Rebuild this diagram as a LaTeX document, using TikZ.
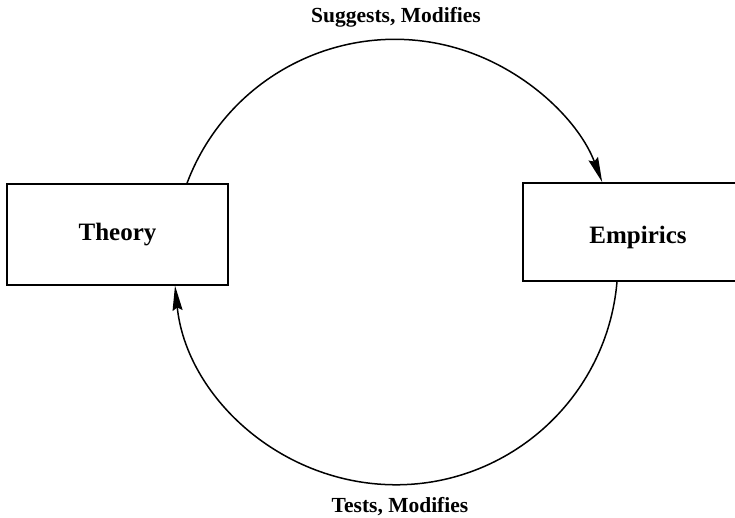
\documentclass[tikz,border=0pt]{standalone}
\usepackage{fontspec}
\setmainfont{Liberation Serif}
\usetikzlibrary{arrows.meta}

\tikzset{
    stage/.style={draw, line width=1.5pt, inner sep=0pt, font=\fontsize{25}{30}\selectfont\bfseries},
    flow/.style={line width=1.5pt, -{Stealth[length=25pt,width=10pt,inset=3pt]}},
    tag/.style={font=\fontsize{21.5}{26}\selectfont\bfseries}
}

\begin{document}
\begin{tikzpicture}[x=1pt,y=1pt]
    \useasboundingbox (0,0) rectangle (735,518);

    \node[stage, minimum width=221pt, minimum height=101pt] (theory) at (117.5,283.5) {Theory};
    \node[stage, minimum width=230pt, minimum height=98pt] (empirics) at (638,286) {\raisebox{-5pt}[\height][\depth]{Empirics}};
    \node[tag] (suggests) at (396,501) {Suggests, Modifies};
    \node[tag] (tests) at (400,11) {Tests, Modifies};
    \coordinate (hub) at (395,256);

    \draw[flow] ([xshift=69.5pt]theory.north) arc[start angle=159.4, end angle=20.9, radius=222pt];
    \draw[flow] ([xshift=-21pt]empirics.south) arc[start angle=-4.9, end angle=-174.1, radius=222pt];

\end{tikzpicture}
\end{document}
